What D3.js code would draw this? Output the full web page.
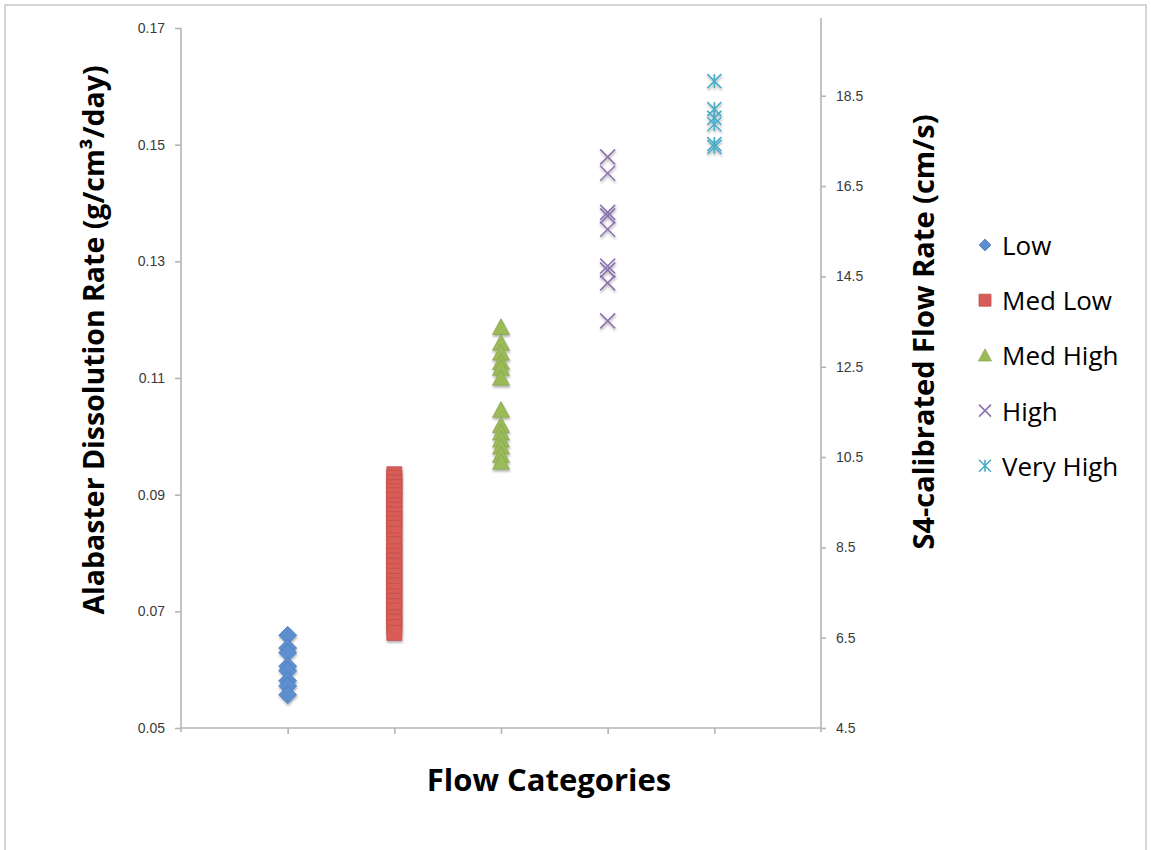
<!DOCTYPE html>
<html>
<head>
<meta charset="utf-8">
<script src="https://cdn.jsdelivr.net/npm/d3@7"></script>
<style>
  body { margin: 0; background: #fff; }
  svg { display: block; font-family: "Open Sans", "DejaVu Sans", sans-serif; }
  .axis path, .axis line { stroke: #b5b5b5; stroke-width: 1.6; }
  .title { font-weight: bold; fill: #000; }
  .legend text { font-size: 26px; fill: #000; }
</style>
</head>
<body>
<svg width="1151" height="850"></svg>
<script>
// categories (x positions 1..5) and their readings, left axis units g/cm3/day
var categories = ["Low", "Med Low", "Med High", "High", "Very High"]
var colors = ["#5B8ED0", "#D95B57", "#9BBB59", "#8B72AE", "#4BACC6"]

var lowValues = [0.0659, 0.0637, 0.0629, 0.0606, 0.0598, 0.0581, 0.0572, 0.0557]
var medLowValues = [0.0935, 0.0929, 0.0921, 0.0913, 0.0906, 0.0899, 0.0891, 0.0882,
    0.0874, 0.0866, 0.0858, 0.0851, 0.0843, 0.0833, 0.0822, 0.0815, 0.0803, 0.0795,
    0.0787, 0.0778, 0.0769, 0.0761, 0.0752, 0.0744, 0.0735, 0.0726, 0.0718, 0.0709,
    0.0701, 0.0690, 0.0682, 0.0673, 0.0663]
var medHighValues = [0.1187, 0.1160, 0.1143, 0.1127, 0.1117, 0.1100,
    0.1045, 0.1019, 0.1006, 0.0994, 0.0982, 0.0968, 0.0956]
var highValues = [0.1479, 0.1451, 0.1384, 0.1378, 0.1355, 0.1292, 0.1285, 0.1263, 0.1198]
var veryHighValues = [0.1609, 0.1561, 0.1546, 0.1535, 0.1501, 0.1496]

var leftTicks = [0.05, 0.07, 0.09, 0.11, 0.13, 0.15, 0.17]
var rightTicks = [4.5, 6.5, 8.5, 10.5, 12.5, 14.5, 16.5, 18.5]

var seriesValues = [lowValues, medLowValues, medHighValues, highValues, veryHighValues]

var makeTranslateString = function (x, y) {
    return "translate(" + x + "," + y + ")";
}

// marker paths, centred on 0,0
var markerPath = function (kind, s) {
    var h = s / 2
    if (kind == 0) {
        return "M0," + (-h) + "L" + h + ",0L0," + h + "L" + (-h) + ",0Z"
    }
    if (kind == 1) {
        return "M" + (-h) + "," + (-h) + "h" + s + "v" + s + "h" + (-s) + "Z"
    }
    if (kind == 2) {
        return "M0," + (-h) + "L" + h + "," + (h * 0.85) + "L" + (-h) + "," + (h * 0.85) + "Z"
    }
    if (kind == 3) {
        return "M" + (-h) + "," + (-h) + "L" + h + "," + h + "M" + h + "," + (-h) + "L" + (-h) + "," + h
    }
    return "M" + (-h) + "," + (-h) + "L" + h + "," + h + "M" + h + "," + (-h) + "L" + (-h) + "," + h +
        "M0," + (-h) + "L0," + h
}

var styleMarker = function (sel, kind) {
    if (kind >= 3) {
        sel.attr("fill", "none")
            .attr("stroke", colors[kind])
            .attr("stroke-width", 1.6)
    } else {
        sel.attr("fill", colors[kind])
            .attr("stroke", d3.color(colors[kind]).darker(0.35))
            .attr("stroke-width", 0.8)
    }
}

var styleTicks = function (g) {
    g.selectAll(".tick text")
        .attr("font-size", 14)
        .attr("fill", "#3a3a3a")
}

var initGraph = function () {
    var margins = { left: 181, top: 28 }
    var graph = { width: 640, height: 700 }

    var svg = d3.select("svg")

    var defs = svg.append("defs")
    var shadow = defs.append("filter")
        .attr("id", "shadow")
        .attr("x", "-50%").attr("y", "-50%")
        .attr("width", "200%").attr("height", "200%")
    shadow.append("feDropShadow")
        .attr("dx", 0.5).attr("dy", 2)
        .attr("stdDeviation", 1.3)
        .attr("flood-color", "#000")
        .attr("flood-opacity", 0.3)

    // outer frame
    svg.append("rect")
        .attr("x", 5).attr("y", 5)
        .attr("width", 1141).attr("height", 860)
        .attr("fill", "none")
        .attr("stroke", "#c8c8c8")
        .attr("stroke-width", 1.5)

    var xScale = d3.scaleLinear()
        .domain([0, 6])
        .range([0, graph.width])

    var yLeft = d3.scaleLinear()
        .domain([0.05, 0.17])
        .range([graph.height, 0])

    var yRight = d3.scaleLinear()
        .domain([4.5, 20])
        .range([graph.height, 0])

    var plot = svg.append("g")
        .attr("transform", makeTranslateString(margins.left, margins.top))

    var xAxis = d3.axisBottom(xScale)
        .tickValues([1, 2, 3, 4, 5])
        .tickSize(6)
        .tickFormat("")

    plot.append("g")
        .classed("axis", true)
        .attr("transform", makeTranslateString(0, graph.height))
        .call(xAxis)
        .call(function (g) { g.select(".domain").attr("d", "M0,0H" + graph.width) })

    plot.append("g")
        .classed("axis", true)
        .call(d3.axisLeft(yLeft)
            .tickValues(leftTicks)
            .tickSize(6)
            .tickPadding(10)
            .tickFormat(d3.format(".2f")))
        .call(function (g) { g.select(".domain").attr("d", "M0," + (graph.height + 4) + "V0") })
        .call(styleTicks)

    plot.append("g")
        .classed("axis", true)
        .attr("transform", makeTranslateString(graph.width, 0))
        .call(d3.axisRight(yRight)
            .tickValues(rightTicks)
            .tickSize(5)
            .tickPadding(10)
            .tickFormat(d3.format(".1f")))
        .call(function (g) { g.select(".domain").attr("d", "M0," + (graph.height + 4) + "V-10") })
        .call(styleTicks)

    // points
    seriesValues.forEach(function (values, i) {
        var group = plot.append("g")
            .attr("filter", "url(#shadow)")
        var size = [18, 15, 17, 15, 14][i]
        group.selectAll("path")
            .data(values)
            .enter()
            .append("path")
            .attr("d", markerPath(i, size))
            .attr("transform", function (v) {
                return makeTranslateString(xScale(i + 1), yLeft(v))
            })
            .call(styleMarker, i)
    })

    // titles
    svg.append("text")
        .classed("title", true)
        .text("Alabaster Dissolution Rate (g/cm³/day)")
        .attr("text-anchor", "middle")
        .attr("font-size", 28.5)
        .attr("transform", makeTranslateString(104, 340) + " rotate(-90)")

    svg.append("text")
        .classed("title", true)
        .text("S4-calibrated Flow Rate (cm/s)")
        .attr("text-anchor", "middle")
        .attr("font-size", 29)
        .attr("transform", makeTranslateString(934, 332) + " rotate(-90)")

    svg.append("text")
        .classed("title", true)
        .text("Flow Categories")
        .attr("text-anchor", "middle")
        .attr("font-size", 31)
        .attr("x", 549)
        .attr("y", 791)

    // legend
    var legend = svg.append("g")
        .classed("legend", true)
        .attr("transform", makeTranslateString(985, 245))

    var items = legend.selectAll("g")
        .data(categories)
        .enter()
        .append("g")
        .attr("transform", function (c, i) { return makeTranslateString(0, i * 55.2) })

    items.append("path")
        .attr("d", function (c, i) { return markerPath(i, [12, 12, 13, 12, 12][i]) })
        .each(function (c, i) { d3.select(this).call(styleMarker, i) })

    items.append("text")
        .text(function (c) { return c })
        .attr("x", 17)
        .attr("y", 10)
}

initGraph()
</script>
</body>
</html>
